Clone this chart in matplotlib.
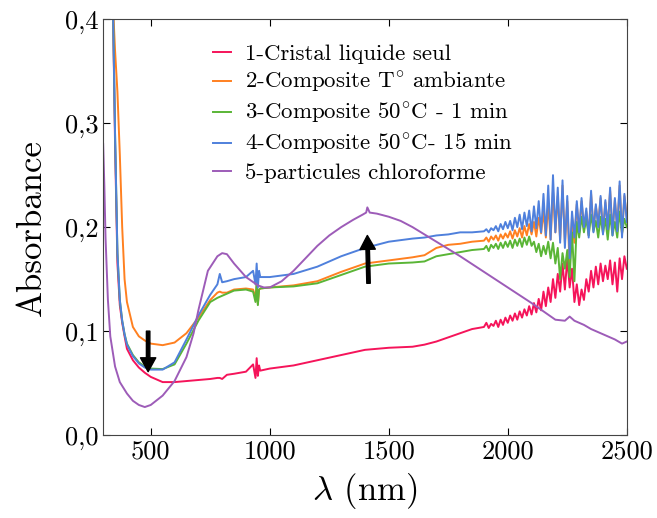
import matplotlib
matplotlib.use("Agg")
import matplotlib.pyplot as plt

plt.rcParams['font.family'] = 'serif'
plt.rcParams['font.serif'] = ['cmr10']
plt.rcParams['mathtext.fontset'] = 'cm'
plt.rcParams['axes.unicode_minus'] = False
plt.rcParams['axes.formatter.use_mathtext'] = True

# longueurs d'onde (nm)
wl_smooth = [300, 310, 320, 330, 340, 350, 360, 370, 380, 390, 400, 425, 450, 475,
             500, 550, 600, 650, 700, 750, 780, 790, 800, 820, 850, 900, 930, 940,
             945, 950, 955, 960, 1000, 1100, 1200, 1300, 1400, 1500, 1600, 1650,
             1700, 1750, 1800, 1850]
wl_noise = list(range(1900, 2501, 10))
wl = wl_smooth + wl_noise

cristal = [1.5, 1.2, 0.9, 0.65, 0.43, 0.28, 0.165, 0.125, 0.108, 0.095, 0.083, 0.072, 0.065, 0.060,
           0.056, 0.051, 0.051, 0.052, 0.053, 0.054, 0.055, 0.055, 0.054, 0.058, 0.059, 0.061, 0.068, 0.055,
           0.074, 0.057, 0.067, 0.062, 0.064, 0.067, 0.072, 0.077, 0.082, 0.084, 0.085, 0.087,
           0.090, 0.094, 0.098, 0.102] + [
    .104, .108, .103, .107, .105, .110, .104, .111, .106, .113,
    .108, .115, .110, .117, .111, .119, .113, .121, .115, .124,
    .116, .127, .118, .131, .120, .138, .124, .142, .128, .150,
    .132, .155, .138, .165, .140, .170, .142, .160, .128, .145,
    .125, .140, .130, .150, .138, .158, .142, .162, .145, .165,
    .148, .163, .150, .168, .145, .166, .138, .170, .150, .172, .160]

ambiante = [1.5, 1.2, 0.8, 0.55, 0.42, 0.37, 0.33, 0.27, 0.20, 0.15, 0.128, 0.104, 0.095, 0.091,
            0.088, 0.0865, 0.089, 0.098, 0.113, 0.130, 0.137, 0.138, 0.137, 0.137, 0.140, 0.141, 0.140, 0.132,
            0.145, 0.126, 0.140, 0.141, 0.142, 0.144, 0.148, 0.157, 0.165, 0.168, 0.171, 0.173,
            0.180, 0.183, 0.184, 0.186] + [
    .187, .190, .186, .191, .188, .192, .187, .193, .189, .194,
    .190, .196, .189, .197, .191, .199, .190, .201, .192, .203,
    .193, .205, .191, .209, .194, .215, .190, .222, .188, .235,
    .195, .230, .188, .240, .185, .225, .160, .210, .185, .222,
    .195, .225, .200, .215, .192, .232, .198, .220, .203, .228,
    .196, .224, .200, .235, .195, .226, .198, .240, .193, .230, .210]

c50_1min = [1.5, 1.2, 0.9, 0.65, 0.43, 0.29, 0.175, 0.13, 0.11, 0.097, 0.088, 0.077, 0.070, 0.066,
            0.064, 0.0635, 0.068, 0.088, 0.110, 0.128, 0.132, 0.133, 0.134, 0.136, 0.139, 0.140, 0.138, 0.128,
            0.146, 0.125, 0.140, 0.141, 0.142, 0.143, 0.146, 0.154, 0.162, 0.165, 0.166, 0.167,
            0.172, 0.174, 0.176, 0.178] + [
    .179, .182, .177, .183, .180, .184, .179, .185, .180, .186,
    .181, .187, .180, .188, .182, .189, .181, .190, .183, .191,
    .182, .186, .176, .184, .172, .182, .174, .186, .170, .185,
    .165, .180, .150, .175, .160, .178, .152, .195, .148, .205,
    .190, .210, .195, .208, .192, .212, .196, .206, .190, .210,
    .194, .208, .188, .212, .192, .205, .190, .215, .194, .208, .200]

c50_15min = [1.5, 1.2, 0.9, 0.65, 0.43, 0.29, 0.175, 0.13, 0.11, 0.097, 0.087, 0.076, 0.069, 0.065,
             0.063, 0.063, 0.070, 0.092, 0.115, 0.135, 0.145, 0.155, 0.147, 0.148, 0.150, 0.152, 0.158, 0.145,
             0.165, 0.142, 0.158, 0.152, 0.152, 0.155, 0.162, 0.172, 0.180, 0.186, 0.189, 0.190,
             0.192, 0.193, 0.195, 0.195] + [
    .196, .198, .195, .199, .197, .201, .196, .203, .198, .205,
    .199, .206, .197, .209, .200, .212, .198, .214, .201, .216,
    .196, .220, .199, .225, .195, .232, .192, .240, .188, .250,
    .195, .238, .185, .245, .180, .230, .170, .215, .190, .225,
    .195, .228, .200, .218, .190, .235, .195, .222, .200, .230,
    .193, .226, .198, .238, .192, .228, .196, .244, .190, .232, .205]

wl_part = [300, 305, 310, 320, 330, 350, 370, 400, 425, 450, 475, 500, 550, 600, 650, 680,
           700, 740, 780, 800, 820, 850, 900, 950, 975, 1000, 1050, 1100, 1150, 1200, 1250,
           1300, 1350, 1390, 1405, 1410, 1420, 1450, 1500, 1550, 1600, 1700, 1800, 1900,
           2000, 2100, 2200, 2240, 2260, 2280, 2320, 2350, 2400, 2450, 2480, 2500]
particules = [0.28, 0.24, 0.19, 0.13, 0.095, 0.066, 0.051, 0.040, 0.033, 0.029, 0.027, 0.029,
              0.038, 0.052, 0.075, 0.098, 0.120, 0.158, 0.172, 0.175, 0.174, 0.165, 0.152, 0.144,
              0.142, 0.142, 0.148, 0.158, 0.170, 0.182, 0.192, 0.200, 0.207, 0.212, 0.214, 0.219,
              0.214, 0.213, 0.210, 0.206, 0.200, 0.186, 0.172, 0.157, 0.142, 0.127, 0.111, 0.110,
              0.114, 0.110, 0.106, 0.102, 0.097, 0.092, 0.088, 0.090]

labels = ['1-Cristal liquide seul', r'2-Composite T$^{\circ}$ ambiante',
          r'3-Composite 50$^{\circ}$C - 1 min', r'4-Composite 50$^{\circ}$C- 15 min',
          '5-particules chloroforme']
colors = ['#f5145a', '#ff8020', '#5ab536', '#4f80dc', '#9d5cb8']

fig = plt.figure(figsize=(6.57, 5.18), dpi=100)
ax = fig.add_axes([0.157, 0.160, 0.797, 0.803])

series = [(wl, cristal), (wl, ambiante), (wl, c50_1min), (wl, c50_15min), (wl_part, particules)]
for (x, y), lab, col in zip(series, labels, colors):
    ax.plot(x, y, color=col, lw=1.4, label=lab)

# fleches
ax.annotate('', xy=(489, 0.061), xytext=(489, 0.100),
            arrowprops=dict(facecolor='black', edgecolor='black', width=2.5, headwidth=11, headlength=10))
ax.annotate('', xy=(1410, 0.192), xytext=(1415, 0.146),
            arrowprops=dict(facecolor='black', edgecolor='black', width=2.5, headwidth=11, headlength=10))

ax.set_xlim(300, 2500)
ax.set_ylim(0, 0.4)
ax.set_xticks([500, 1000, 1500, 2000, 2500])
ax.set_xticklabels(['500', '1000', '1500', '2000', '2500'])
ax.set_yticks([0, 0.1, 0.2, 0.3, 0.4])
ax.set_yticklabels(['0,0', '0,1', '0,2', '0,3', '0,4'])
ax.tick_params(direction='in', top=True, right=True, labelsize=19, length=5, width=0.8)
for sp in ax.spines.values():
    sp.set_color('#444444')

ax.set_xlabel(r'$\lambda$ (nm)', fontsize=25, labelpad=5)
ax.set_ylabel('Absorbance', fontsize=25, labelpad=12)

ax.legend(loc='upper left', bbox_to_anchor=(0.17, 0.99), frameon=False, fontsize=16.5,
          handlelength=0.8, handletextpad=0.6, labelspacing=0.26)

fig.savefig('out.png', dpi=100)
